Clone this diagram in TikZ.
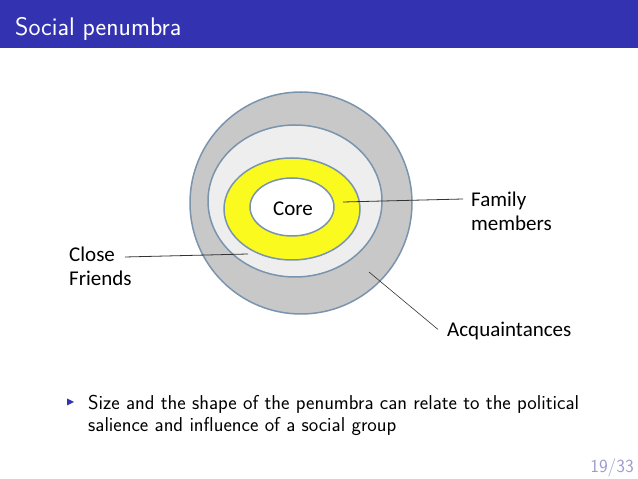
\documentclass[tikz,border=0pt]{standalone}
\usepackage{fontspec}
\newfontfamily\calib{Carlito}
\usetikzlibrary{positioning,calc}
\definecolor{bblue}{HTML}{3333B2}
\definecolor{footgray}{HTML}{9C9CCE}
\definecolor{ringedge}{HTML}{7A94AE}
\definecolor{outergray}{HTML}{C8C8C8}
\definecolor{innergray}{HTML}{EEEEEE}
\definecolor{ryellow}{HTML}{FAFA1E}
\tikzset{
  ring/.style={draw=ringedge, line width=1.5pt},
  lbl/.style={font=\calib\fontsize{21}{24}\selectfont, inner sep=0pt, align=left},
  pointer/.style={draw=black!80, line width=0.8pt},
}

\begin{document}
\begin{tikzpicture}[x=1pt,y=1pt]
 \useasboundingbox (0,0) rectangle (638,479);
 \fill[bblue] (0,431) rectangle (638,479);
 \node[anchor=base west, text=white, inner sep=0pt, font=\sffamily\fontsize{25.5}{30}\selectfont] (title) at (15,443) {Social penumbra};
 % rings, outside in
 \foreach \cx/\cy/\rx/\ry/\col in {301/276/111/111/outergray,295/278/87/76/innergray,292/270/68/51/ryellow,292/272/42/29/white}
   \filldraw[ring, fill=\col] (\cx,\cy) ellipse ({\rx pt} and {\ry pt});
 \node[lbl] (core) at (293,270) {Core};
 \coordinate (famin) at (343,277);
 \coordinate (closein) at (248,225);
 \coordinate (acqin) at (369,207);
 \node[lbl, anchor=north west] (fam) at (471,287) {Family\\members};
 \node[lbl, anchor=north west] (close) at (69,232) {Close\\Friends};
 \node[lbl, anchor=base west] (acq) at (447,142) {Acquaintances};
 \draw[pointer] (famin) -- ([xshift=-8pt,yshift=-7pt]fam.north west);
 \draw[pointer] (closein) -- ([xshift=56pt,yshift=-10pt]close.north west);
 \draw[pointer, line width=0.6pt] (acqin) -- ([xshift=-9pt,yshift=2pt]acq.west);
 % bullet
 \fill[bblue] (67,80.5) -- (74,77) -- (67,73.5) -- cycle;
 \node[anchor=base west, inner sep=0pt, align=left, font=\sffamily\fontsize{20.1}{22}\selectfont] (item) at (88,47) {Size and the shape of the penumbra can relate to the political\\salience and influence of a social group};
 \node[anchor=base east, inner sep=0pt, text=footgray, font=\sffamily\fontsize{18.5}{22}\selectfont] (page) at (634,6) {19/33};
\end{tikzpicture}
\end{document}
